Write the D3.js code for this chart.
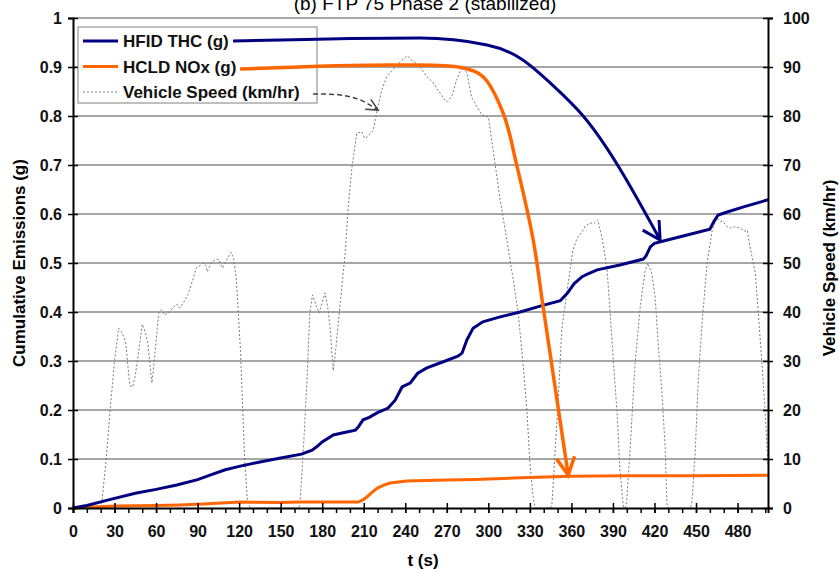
<!DOCTYPE html>
<html>
<head>
<meta charset="utf-8">
<script src="https://cdn.jsdelivr.net/npm/d3@7"></script>
<style>
  body { margin: 0; background: #fff; }
  text { font-family: Arial, 'Liberation Sans', sans-serif; }
</style>
</head>
<body>
<svg id="chart"></svg>
<script>
let d3 = window.d3

// cumulative emissions (g) vs t (s)
let thc = [[0, 0], [10, 0.005], [25, 0.016], [45, 0.03], [60, 0.038], [75, 0.047], [90, 0.058], [100, 0.068],
  [110, 0.078], [120, 0.085], [135, 0.094], [150, 0.102], [165, 0.11], [172.7, 0.118], [176, 0.125], [180, 0.135],
  [188, 0.149], [196, 0.154], [204, 0.159], [206, 0.165], [209.5, 0.18], [214, 0.185], [219.6, 0.194], [227.6, 0.204],
  [232.7, 0.22], [237.7, 0.247], [243.5, 0.255], [249, 0.275], [255.6, 0.286], [267, 0.298], [278, 0.31], [281, 0.316],
  [284.5, 0.343], [289, 0.367], [296, 0.38], [308.5, 0.39], [323, 0.4], [337.4, 0.412], [352, 0.423], [357, 0.438],
  [362, 0.458], [367.8, 0.472], [372, 0.478], [378.6, 0.486], [395, 0.496], [412, 0.508], [414, 0.515], [417, 0.533],
  [420, 0.54], [426.5, 0.545], [443.6, 0.557], [460, 0.569], [463, 0.585], [466, 0.598], [472.5, 0.604], [485, 0.615],
  [502, 0.629]]

let nox = [[0, 0], [30, 0.004], [60, 0.005], [77, 0.006], [94, 0.008], [121, 0.012], [150, 0.011], [164, 0.012],
  [206, 0.012], [209, 0.016], [212, 0.022], [216, 0.032], [219.6, 0.04], [224, 0.046], [229, 0.051], [235, 0.053],
  [241, 0.055], [255, 0.056], [270, 0.057], [290, 0.058], [318, 0.061], [347, 0.064], [359, 0.065], [400, 0.066],
  [450, 0.066], [502, 0.067]]

// vehicle speed (km/hr) vs t (s)
let speed = [[0, 0], [20, 0], [21, 1.6], [24, 10], [27, 20.6], [30, 30], [33, 36.7], [35, 36], [38, 34], [41, 25],
  [43, 24.7], [45, 27], [47, 31], [50, 37.5], [52, 36], [54, 33.7], [57, 25.5], [59, 31], [62, 40], [64, 40.5],
  [66, 39.4], [70, 40], [72, 40.8], [75, 41.6], [77, 40.8], [80, 42], [83, 43.5], [87, 47], [89, 49], [92, 49.5],
  [94, 50], [96, 49.5], [97, 48.2], [100, 50.2], [103, 50.6], [105, 50.8], [108, 49], [111, 50.6], [114, 52.2],
  [116, 51], [118, 46.5], [121, 32], [124, 9.8], [126, 1.6], [128, 0],
  [163, 0], [164, 1], [166.5, 12.4], [169, 26], [171, 39.8], [173, 43.5], [176, 41], [178, 39.8], [180, 42],
  [182, 43.9], [184, 41], [186, 36], [188, 28], [190, 33], [191.6, 37.8], [194, 44.5], [196.6, 52], [198.8, 61.5],
  [201.5, 69.6], [205, 76.5], [208.6, 76.8], [210.5, 75.5], [212.5, 75.7], [216.8, 77.1], [219.7, 81.2], [223, 85.3],
  [226.6, 88], [232.6, 90], [237.6, 91.4], [240, 92], [242, 92.2], [244, 91.5], [247, 91], [250.7, 90], [255.6, 88],
  [260, 86.9], [263, 85.5], [265, 84.7], [268, 83.5], [270, 82.9], [272, 83.5], [274, 84.3], [277, 87.3], [281, 90],
  [284.5, 88.8], [288, 83.7], [292, 81.8], [295.5, 80.2], [300, 79.8], [303.5, 73], [308.5, 62.9], [313.4, 54.7],
  [318, 46.5], [321.6, 39.8], [325, 29.6], [328, 19.4], [330, 9.2], [332.6, 1.6], [334, 0],
  [345, 0], [346, 1], [348, 10.4], [350.6, 22.6], [353, 36.3], [357, 44.5], [361, 52.6], [364, 55], [367.6, 56.3],
  [370, 57.5], [373.5, 58.2], [376, 58], [379, 58.8], [382, 55.3], [385.6, 49.2], [388, 39.8], [390.4, 29.6],
  [393, 19.4], [395, 7.8], [397.6, 0.2], [399, 0],
  [400, 1.6], [402.5, 12.4], [406, 29.6], [409.7, 41], [413, 48], [415, 50], [418, 48], [420.5, 43], [422.8, 32.9],
  [425.6, 22.7], [427.7, 12.4], [429, 1], [430, 0],
  [446, 0], [447, 1], [449.4, 11.2], [451.6, 26], [454.4, 37.8], [458, 50], [461.7, 56.7], [465, 59.2], [467, 58.6],
  [469.7, 58.4], [472, 57.5], [474.7, 57.1], [478, 57.4], [482, 57.1], [485, 56.5], [487, 56.7], [489, 53.3],
  [492.8, 48], [495, 39.8], [497.6, 29.6], [500, 19.4], [502, 9]]

// hand-drawn annotation arrows (t, emissions) and (t, speed)
let thcArrow = [[115.6, 0.953], [250.7, 0.959], [299.1, 0.945], [323, 0.918], [346.8, 0.862], [368.5, 0.8],
  [424.1, 0.547]]
let noxArrow = [[120.7, 0.896], [236.3, 0.904], [281.8, 0.898], [296.2, 0.88], [310.7, 0.806], [320.8, 0.696],
  [332.4, 0.547], [339.6, 0.41], [357.7, 0.067]]
let speedArrow = [[173.4, 84.5], [192.9, 84.3], [207.4, 83.3], [220.4, 81.2]]

let leftTicks = d3.range(0, 1.01, 0.1)
let rightTicks = d3.range(0, 101, 10)
let xLabelTicks = d3.range(0, 481, 30)
let xMinorTicks = d3.range(0, 501, 10)

let title = '(b) FTP 75 Phase 2 (stabilized)'
let legendItems = ['HFID THC (g)', 'HCLD NOx (g)', 'Vehicle Speed (km/hr)']

let margin = { top: 18, right: 71, bottom: 65, left: 73 }
let width = 839 - margin.left - margin.right
let height = 573 - margin.top - margin.bottom

let x = d3.scaleLinear().domain([0, 502]).range([0, width])
let yL = d3.scaleLinear().domain([0, 1]).range([height, 0])
let yR = d3.scaleLinear().domain([0, 100]).range([height, 0])

let root = d3.select('#chart')
  .attr('width', 839)
  .attr('height', 573)

// the title sits partly above the top edge, as in the source image
root.append('text')
  .attr('x', 425)
  .attr('y', 10)
  .attr('text-anchor', 'middle')
  .style('font-size', '19px')
  .text(title)

let svg = root.append('g')
  .attr('transform', 'translate(' + margin.left + ',' + margin.top + ')')

// gridlines
svg.append('g')
  .selectAll('line')
  .data(leftTicks.slice(1))
  .join('line')
  .attr('x1', 0)
  .attr('x2', width)
  .attr('y1', d => yL(d))
  .attr('y2', d => yL(d))
  .attr('stroke', '#a6a6a6')
  .attr('stroke-width', 2)

let lineL = d3.line().x(d => x(d[0])).y(d => yL(d[1]))
let lineR = d3.line().x(d => x(d[0])).y(d => yR(d[1]))

svg.append('path')
  .attr('d', lineR(speed))
  .attr('fill', 'none')
  .attr('stroke', '#7a7a7a')
  .attr('stroke-width', 1)
  .attr('stroke-dasharray', '2,2')

svg.append('path')
  .attr('d', lineL(nox))
  .attr('fill', 'none')
  .attr('stroke', '#ff6600')
  .attr('stroke-width', 3)

svg.append('path')
  .attr('d', lineL(thc))
  .attr('fill', 'none')
  .attr('stroke', '#000080')
  .attr('stroke-width', 3)

// axes
let xAxis = svg.append('g')
  .attr('transform', 'translate(0,' + height + ')')
  .call(d3.axisBottom(x).tickValues(xLabelTicks).tickSize(5).tickPadding(13).tickFormat(d3.format('d')))
xAxis.selectAll('.tick line').attr('y1', -5)
svg.append('g')
  .attr('transform', 'translate(0,' + height + ')')
  .call(d3.axisBottom(x).tickValues(xMinorTicks).tickSize(5).tickFormat(''))
  .call(g => g.select('.domain').remove())

let yAxisL = svg.append('g')
  .call(d3.axisLeft(yL).tickValues(leftTicks).tickSize(5).tickPadding(6).tickFormat(d3.format('~g')))
yAxisL.selectAll('.tick line').attr('x1', 5)

let yAxisR = svg.append('g')
  .attr('transform', 'translate(' + width + ',0)')
  .call(d3.axisRight(yR).tickValues(rightTicks).tickSize(5).tickPadding(10).tickFormat(d3.format('d')))
yAxisR.selectAll('.tick line').attr('x1', -5)

svg.selectAll('.domain').attr('stroke', '#000').attr('stroke-width', 2)
svg.selectAll('.tick line').attr('stroke', '#000').attr('stroke-width', 1.5)
svg.selectAll('.tick text')
  .style('font-size', '16px')
  .style('font-weight', 'bold')
  .attr('fill', '#111')

// axis titles
svg.append('text')
  .attr('transform', 'translate(' + (25 - margin.left) + ',' + (height / 2) + ') rotate(-90)')
  .attr('text-anchor', 'middle')
  .style('font-size', '17px')
  .style('font-weight', 'bold')
  .text('Cumulative Emissions (g)')

svg.append('text')
  .attr('transform', 'translate(' + (width + 67) + ',' + (height / 2 + 5) + ') rotate(-90)')
  .attr('text-anchor', 'middle')
  .style('font-size', '17px')
  .style('font-weight', 'bold')
  .text('Vehicle Speed (km/hr)')

svg.append('text')
  .attr('x', 350)
  .attr('y', height + 58)
  .attr('text-anchor', 'middle')
  .style('font-size', '17px')
  .style('font-weight', 'bold')
  .text('t (s)')

// legend
let legend = svg.append('g').attr('transform', 'translate(5,9)')
legend.append('rect')
  .attr('width', 239)
  .attr('height', 76)
  .attr('fill', '#fff')
  .attr('stroke', '#808080')
  .attr('stroke-width', 1)
let legendStyles = [
  { color: '#000080', w: 3, dash: null },
  { color: '#ff6600', w: 3, dash: null },
  { color: '#7a7a7a', w: 1, dash: '2,2' }
]
legendItems.forEach(function (name, i) {
  let cy = 14 + i * 25.5
  legend.append('line')
    .attr('x1', 5).attr('x2', 40)
    .attr('y1', cy).attr('y2', cy)
    .attr('stroke', legendStyles[i].color)
    .attr('stroke-width', legendStyles[i].w)
    .attr('stroke-dasharray', legendStyles[i].dash)
  legend.append('text')
    .attr('x', 45)
    .attr('y', cy + 6)
    .style('font-size', '17px')
    .style('font-weight', 'bold')
    .attr('fill', '#111')
    .text(name)
})

// annotation arrows
function arrowHead (pts, sy, len, spread) {
  let a = pts[pts.length - 2]
  let b = pts[pts.length - 1]
  let x0 = x(a[0])
  let y0 = sy(a[1])
  let x1 = x(b[0])
  let y1 = sy(b[1])
  let ang = Math.atan2(y1 - y0, x1 - x0)
  let p = d3.path()
  p.moveTo(x1 - len * Math.cos(ang - spread), y1 - len * Math.sin(ang - spread))
  p.lineTo(x1, y1)
  p.lineTo(x1 - len * Math.cos(ang + spread), y1 - len * Math.sin(ang + spread))
  return p.toString()
}

let smoothL = d3.line().curve(d3.curveMonotoneX).x(d => x(d[0])).y(d => yL(d[1]))
let curveL = d3.line().curve(d3.curveCatmullRom.alpha(0.5)).x(d => x(d[0])).y(d => yL(d[1]))
let curveR = d3.line().curve(d3.curveCatmullRom.alpha(0.5)).x(d => x(d[0])).y(d => yR(d[1]))

svg.append('path')
  .attr('d', smoothL(thcArrow) + arrowHead(thcArrow, yL, 20, 0.5))
  .attr('fill', 'none')
  .attr('stroke', '#000080')
  .attr('stroke-width', 3)

svg.append('path')
  .attr('d', curveL(noxArrow) + arrowHead(noxArrow, yL, 20, 0.47))
  .attr('fill', 'none')
  .attr('stroke', '#ff6600')
  .attr('stroke-width', 3.5)

svg.append('path')
  .attr('d', curveR(speedArrow))
  .attr('fill', 'none')
  .attr('stroke', '#404040')
  .attr('stroke-width', 1.5)
  .attr('stroke-dasharray', '5,3')
svg.append('path')
  .attr('d', arrowHead(speedArrow, yR, 13, 0.45))
  .attr('fill', 'none')
  .attr('stroke', '#404040')
  .attr('stroke-width', 1.5)
</script>
</body>
</html>
